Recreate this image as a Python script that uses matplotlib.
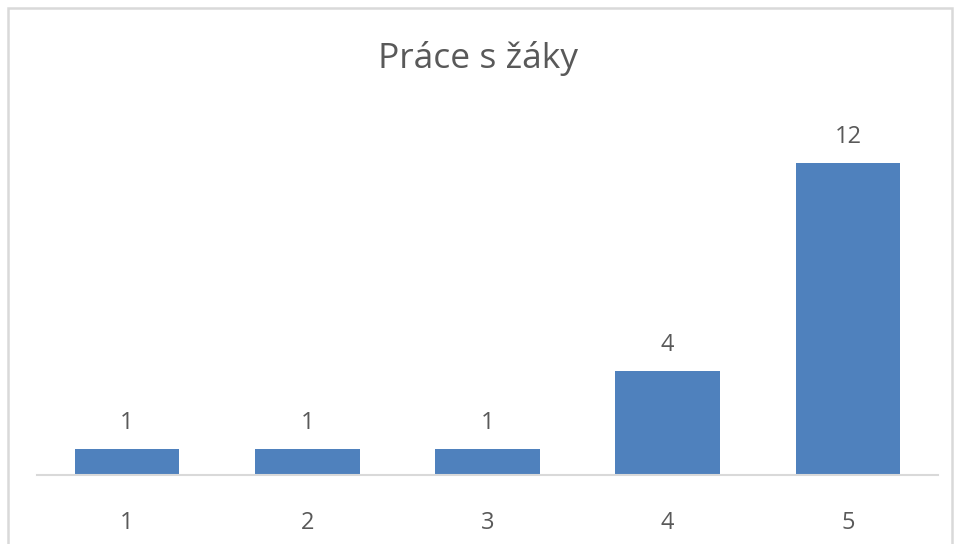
import matplotlib.pyplot as plt
from matplotlib.patches import Rectangle

plt.rcParams['font.family'] = ['Open Sans', 'DejaVu Sans']

categories = ['1', '2', '3', '4', '5']
values = [1, 1, 1, 4, 12]

text_color = '#595959'
bar_color = '#4F81BD'

fig = plt.figure(figsize=(9.55, 5.44), dpi=100)
ax = fig.add_axes([37/955, 1 - 475/544, (938 - 37)/955, 364/544])

x = range(len(categories))
bars = ax.bar(x, values, width=0.58, color=bar_color, zorder=2)
for b, v in zip(bars, values):
    ax.annotate(str(v), (b.get_x() + b.get_width()/2, v), xytext=(0, 10),
                textcoords='offset points', ha='center', va='bottom',
                fontsize=17, color=text_color)

ax.set_xlim(-0.5, len(categories) - 0.5)
ax.set_ylim(0, 14)
ax.set_xticks(list(x))
ax.set_xticklabels(categories, fontsize=17, color=text_color)
ax.tick_params(axis='x', length=0, pad=26)
ax.set_yticks([])
for s in ['top', 'left', 'right']:
    ax.spines[s].set_visible(False)
ax.spines['bottom'].set_color('#D9D9D9')
ax.spines['bottom'].set_linewidth(1.5)

fig.text(0.5, 1 - 58/544, 'Práce s žáky', ha='center', va='center',
         fontsize=25.5, color=text_color)

# outer chart border
fig.add_artist(Rectangle((7.5/955, -0.05), (952 - 7.5)/955, 1.05 - 7.5/544,
                         transform=fig.transFigure, fill=False,
                         edgecolor='#D9D9D9', linewidth=1.8))

fig.savefig('out.png', dpi=100)
